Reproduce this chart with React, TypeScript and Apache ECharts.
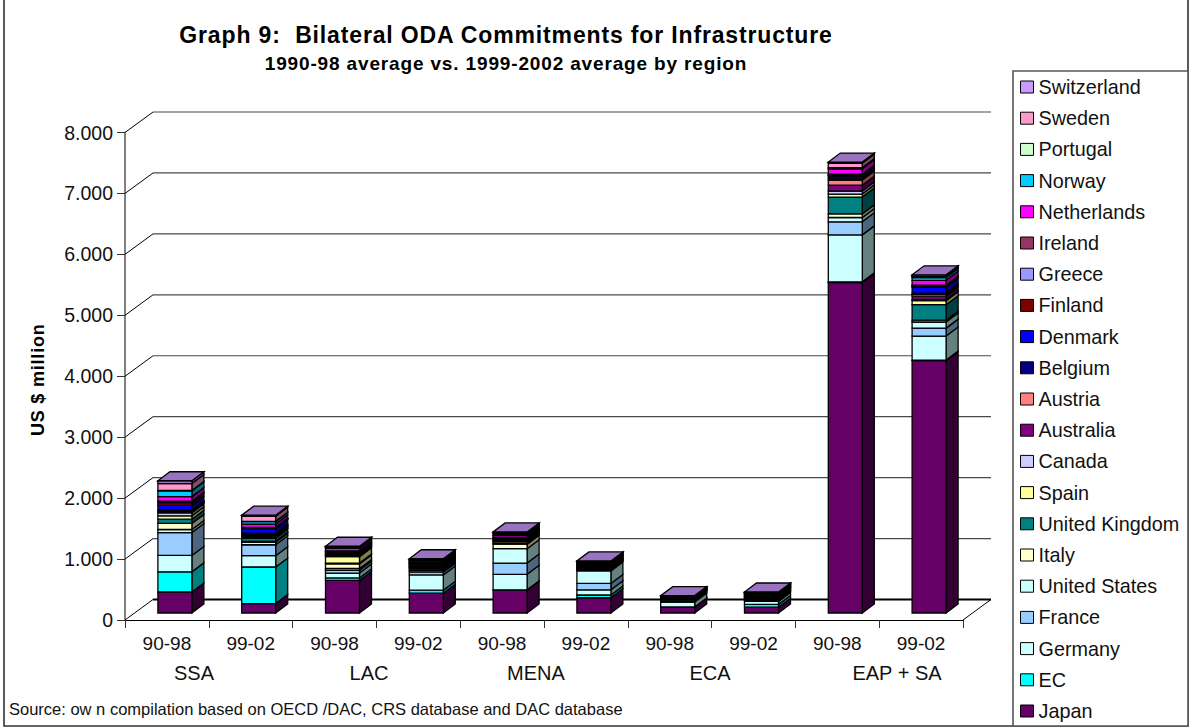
import React, { useEffect, useRef } from "react";
import * as echarts from "echarts";

const periods = ["90-98", "99-02", "90-98", "99-02", "90-98", "99-02", "90-98", "99-02", "90-98", "99-02"];
const yTicks = [0, 1000, 2000, 3000, 4000, 5000, 6000, 7000, 8000];

// Commitments in US$ million, one value per bar
const japan = [345, 155, 535, 325, 375, 250, 95, 95, 5420, 4140];
const ec = [330, 600, 40, 50, 5, 45, 5, 45, 15, 10];
const germany = [270, 185, 80, 250, 255, 85, 80, 50, 770, 395];
const france = [375, 180, 45, 45, 185, 105, 15, 15, 215, 130];
const unitedStates = [50, 40, 30, 25, 235, 205, 15, 15, 70, 100];
const italy = [100, 15, 75, 25, 75, 15, 10, 10, 60, 30];
const unitedKingdom = [70, 55, 15, 20, 15, 10, 5, 15, 275, 255];
const spain = [55, 20, 105, 15, 25, 10, 5, 10, 50, 65];
const canada = [50, 15, 15, 15, 10, 10, 5, 5, 50, 20];
const australia = [15, 15, 15, 15, 15, 10, 5, 5, 95, 55];
const austria = [15, 10, 10, 5, 5, 5, 5, 5, 85, 30];
const belgium = [15, 20, 15, 15, 10, 15, 5, 10, 30, 20];
const denmark = [75, 75, 15, 15, 15, 15, 5, 10, 35, 95];
const finland = [45, 5, 15, 5, 10, 10, 5, 10, 10, 15];
const greece = [15, 5, 5, 5, 5, 5, 5, 5, 10, 10];
const ireland = [10, 10, 5, 5, 5, 5, 5, 5, 10, 10];
const netherlands = [75, 55, 40, 15, 30, 15, 5, 10, 90, 80];
const norway = [95, 40, 15, 15, 15, 15, 5, 10, 10, 45];
const portugal = [5, 5, 5, 5, 10, 5, 0, 5, 10, 10];
const sweden = [115, 85, 10, 10, 15, 10, 0, 5, 70, 10];
const switzerland = [45, 15, 5, 10, 15, 10, 5, 5, 20, 25];

// Bottom-to-top stacking order; the legend lists them top-to-bottom
const donors: [string, number[], string][] = [
  ["Japan", japan, "#660066"],
  ["EC", ec, "#00FFFF"],
  ["Germany", germany, "#CCFFFF"],
  ["France", france, "#99CCFF"],
  ["United States", unitedStates, "#CCFFFF"],
  ["Italy", italy, "#FFFFCC"],
  ["United Kingdom", unitedKingdom, "#008080"],
  ["Spain", spain, "#FFFF99"],
  ["Canada", canada, "#CCCCFF"],
  ["Australia", australia, "#800080"],
  ["Austria", austria, "#FF8080"],
  ["Belgium", belgium, "#000080"],
  ["Denmark", denmark, "#0000FF"],
  ["Finland", finland, "#800000"],
  ["Greece", greece, "#9999FF"],
  ["Ireland", ireland, "#993366"],
  ["Netherlands", netherlands, "#FF00FF"],
  ["Norway", norway, "#00CCFF"],
  ["Portugal", portugal, "#CCFFCC"],
  ["Sweden", sweden, "#FF99CC"],
  ["Switzerland", switzerland, "#CC99FF"],
];

const regionLabels: [string, number][] = [
  ["SSA", 194],
  ["LAC", 369],
  ["MENA", 536],
  ["ECA", 710],
  ["EAP + SA", 897],
];

const chartTitle = "Graph 9:  Bilateral ODA Commitments for Infrastructure";
const chartSubtitle = "1990-98 average vs. 1999-2002 average by region";
const yAxisTitle = "US $ million";
const sourceNote = "Source: ow n compilation based on OECD /DAC, CRS database and DAC database";

const FONT = '"Liberation Sans", Arial, sans-serif';

// Multiply a hex colour's channels to get the shaded faces of a 3D column
function shade(hex: string, k: number) {
  const n = parseInt(hex.slice(1), 16);
  const r = Math.round(((n >> 16) & 255) * k);
  const g = Math.round(((n >> 8) & 255) * k);
  const b = Math.round((n & 255) * k);
  return `rgb(${r},${g},${b})`;
}

const wallDepth = [28, -20.5];
const barOffset = [8, -7];
const barDepth = [12, -9];
const barWidth = 34;

function buildOption() {
  const running = periods.map(() => 0);
  const barSeries = donors.map(([name, values, color], idx) => {
    const data = values.map((v, i) => {
      const start = running[i];
      running[i] += v;
      return [i, start, running[i]];
    });
    const isTop = idx === donors.length - 1;
    return {
      type: "custom",
      name,
      coordinateSystem: "cartesian2d",
      clip: false,
      z: 3,
      itemStyle: { color, borderColor: "#000", borderWidth: 1 },
      encode: { x: 0, y: 2 },
      data,
      renderItem: (_p: any, api: any) => {
        const low = api.coord([api.value(0), api.value(1)]);
        const high = api.coord([api.value(0), api.value(2)]);
        const x0 = low[0] - barWidth / 2 + barOffset[0];
        const x1 = x0 + barWidth;
        const yb = low[1] + barOffset[1];
        const yt = high[1] + barOffset[1];
        const dx = barDepth[0];
        const dy = barDepth[1];
        const line = { stroke: "#000", lineWidth: 1.3, lineJoin: "miter" };
        const children: any[] = [
          {
            type: "polygon",
            shape: { points: [[x1, yb], [x1 + dx, yb + dy], [x1 + dx, yt + dy], [x1, yt]] },
            style: { fill: shade(color, 0.5), ...line },
          },
          {
            type: "polygon",
            shape: { points: [[x0, yb], [x1, yb], [x1, yt], [x0, yt]] },
            style: { fill: color, ...line },
          },
        ];
        if (isTop) {
          children.push({
            type: "polygon",
            shape: { points: [[x0, yt], [x1, yt], [x1 + dx, yt + dy], [x0 + dx, yt + dy]] },
            style: { fill: shade(color, 0.75), ...line },
          });
        }
        return { type: "group", children };
      },
    };
  });

  // Back-wall gridlines and floor of the 3D plot
  const wall = {
    type: "custom",
    name: "wall",
    coordinateSystem: "cartesian2d",
    clip: false,
    z: 1,
    silent: true,
    encode: { y: 0 },
    data: yTicks.map((v) => [v]),
    renderItem: (params: any, api: any) => {
      const cs = params.coordSys;
      const v = api.value(0);
      const y = api.coord([0, v])[1];
      const xa = cs.x;
      const xb = cs.x + cs.width;
      const bx = xa + wallDepth[0];
      const by = y + wallDepth[1];
      const children: any[] = [
        {
          type: "polyline",
          shape: { points: [[xa, y], [bx, by]] },
          style: { stroke: "#000", lineWidth: 1, fill: "none" },
        },
        {
          type: "polyline",
          shape: { points: [[bx, by], [xb + wallDepth[0], by]] },
          style: { stroke: v === 0 ? "#000" : "#4a4a4a", lineWidth: v === 0 ? 2 : 1.2, fill: "none" },
        },
      ];
      if (v === 0) {
        children.push({
          type: "polyline",
          shape: { points: [[xb + wallDepth[0], by], [xb, y]] },
          style: { stroke: "#000", lineWidth: 1, fill: "none" },
        });
      }
      return { type: "group", children };
    },
  };

  return {
    animation: false,
    backgroundColor: "#fff",
    textStyle: { fontFamily: FONT },
    title: [
      {
        text: chartTitle,
        left: 506,
        top: 23.5,
        padding: 0,
        textAlign: "center",
        textStyle: { fontFamily: FONT, fontSize: 23, fontWeight: "bold", color: "#000" },
      },
      {
        text: chartSubtitle,
        left: 506,
        top: 53.5,
        padding: 0,
        textAlign: "center",
        textStyle: { fontFamily: FONT, fontSize: 19, fontWeight: "bold", color: "#000" },
      },
    ],
    grid: { left: 125, top: 132.5, width: 838, height: 487.5, containLabel: false },
    xAxis: {
      type: "category",
      data: periods,
      axisLine: { lineStyle: { color: "#000", width: 1 } },
      axisTick: { show: true, length: 8, lineStyle: { color: "#333", width: 1 } },
      axisLabel: { color: "#111", fontSize: 19, margin: 14, fontFamily: FONT, interval: 0 },
    },
    yAxis: {
      type: "value",
      min: 0,
      max: 8000,
      interval: 1000,
      name: yAxisTitle,
      nameLocation: "middle",
      nameGap: 78,
      nameRotate: 90,
      nameTextStyle: {
        fontFamily: FONT,
        fontSize: 18,
        fontWeight: "bold",
        color: "#000",
        padding: [0, 7, 0, 0],
      },
      splitLine: { show: false },
      axisLine: { show: true, lineStyle: { color: "#808080", width: 2 } },
      axisTick: { show: true, length: 8, lineStyle: { color: "#333", width: 1 } },
      axisLabel: {
        color: "#111",
        fontSize: 19.5,
        margin: 12,
        fontFamily: FONT,
        formatter: (v: number) => (v === 0 ? "0" : `${v / 1000}.000`),
      },
    },
    legend: {
      orient: "vertical",
      left: 1015,
      top: 71,
      padding: 5,
      itemWidth: 13,
      itemHeight: 12,
      itemGap: 9.2,
      icon: "rect",
      data: donors.map((d) => d[0]).reverse(),
      selectedMode: false,
      itemStyle: { borderColor: "#000", borderWidth: 1 },
      textStyle: { fontFamily: FONT, fontSize: 19.8, color: "#111", lineHeight: 22 },
    },
    graphic: [
      {
        type: "rect",
        silent: true,
        z: -1,
        shape: { x: 4, y: -2, width: 1184, height: 728 },
        style: { fill: "none", stroke: "#333", lineWidth: 1.6 },
      },
      {
        type: "rect",
        silent: true,
        z: -1,
        shape: { x: 1013, y: 71, width: 175, height: 655 },
        style: { fill: "#fff", stroke: "#555", lineWidth: 1.6 },
      },
      ...regionLabels.map(([text, x]) => ({
        type: "text",
        silent: true,
        x,
        y: 673,
        style: {
          text,
          fontFamily: FONT,
          fontSize: 20,
          fill: "#111",
          textAlign: "center",
          textVerticalAlign: "middle",
        },
      })),
      {
        type: "text",
        silent: true,
        x: 9,
        y: 709,
        style: {
          text: sourceNote,
          fontFamily: FONT,
          fontSize: 16.5,
          fill: "#111",
          textVerticalAlign: "middle",
        },
      },
    ],
    series: [wall, ...barSeries],
  };
}

// ECharts has no tracking option, so the bold headings get it on their SVG nodes
const headingTracking: [string, string][] = [
  [chartTitle, "0.85px"],
  [chartSubtitle, "0.85px"],
  [yAxisTitle, "0.8px"],
];

function trackHeadings(root: HTMLElement) {
  root.querySelectorAll("text").forEach((node) => {
    const hit = headingTracking.find(([t]) => t === node.textContent);
    if (hit) (node as unknown as SVGTextElement).style.letterSpacing = hit[1];
  });
}

export default function App() {
  const ref = useRef<HTMLDivElement>(null);
  useEffect(() => {
    document.body.style.margin = "0";
    const chart = echarts.init(ref.current!, undefined, { renderer: "svg" });
    chart.setOption(buildOption() as any);
    trackHeadings(ref.current!);
    const onFinished = () => trackHeadings(ref.current!);
    chart.on("finished", onFinished);
    return () => chart.dispose();
  }, []);
  return <div ref={ref} style={{ width: 1192, height: 728 }} />;
}
